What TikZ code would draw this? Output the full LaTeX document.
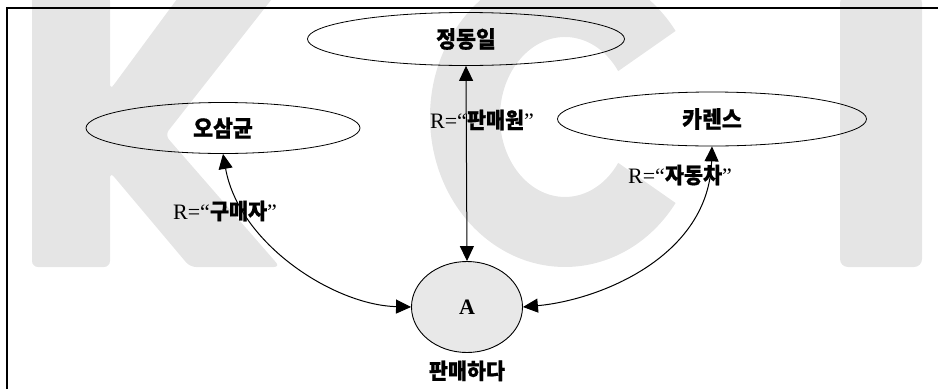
\documentclass[tikz,border=0pt]{standalone}
\usepackage{fontspec}
\setmainfont{Liberation Serif}
\newfontfamily\kor{Noto Sans CJK KR}[BoldFeatures={FakeStretch=0.94, FakeBold=0.6}]
\usetikzlibrary{arrows.meta, positioning, shapes.geometric}
\tikzset{>={Triangle[width=14pt,length=15pt]}}
\definecolor{markgray}{gray}{0.9}
\definecolor{eventgray}{gray}{0.91}

\begin{document}
\begin{tikzpicture}[x=1pt, y=-1pt,
      entity/.style = {draw, ellipse, inner sep=0pt, line width=0.8pt, font=\kor\bfseries\fontsize{23}{23}\selectfont},
      event/.style = {draw, ellipse, fill=eventgray, minimum width=111pt, minimum height=91pt, inner sep=0pt, line width=0.9pt, font=\bfseries\fontsize{22}{22}\selectfont},
      rel/.style = {inner sep=0pt, font=\fontsize{22}{22}\selectfont},
      arrow/.style = {<->, line width=1pt},
      wmark/.style = {fill=markgray, draw=none}
    ]
    \useasboundingbox (0,0) rectangle (938,389);

    % KCI watermark
    \fill[wmark, rounded corners=6pt] (32,-5) -- (110,-5) -- (110,90) -- (180,-5) -- (275,-5) -- (165,135)
      -- (280,267) -- (190,267) -- (110,172) -- (110,267) -- (32,267) -- cycle;
    \fill[wmark] (675.6,203) arc[start angle=35, end angle=325, x radius=135, y radius=150]
      -- (618.2,71.1) arc[start angle=325, end angle=35, x radius=65, y radius=80] -- cycle;
    \fill[wmark, rounded corners=8pt] (840,-5) rectangle (922,267);

    \draw[line width=1.8pt] (7,389) -- (7,8) -- (938,8);

    \node[entity, minimum width=317pt, minimum height=53pt] (jung) at (466,39) {정동일};
    \node[entity, minimum width=274pt, minimum height=51pt] (oh) at (223,128) {오삼균};
    \node[entity, minimum width=309pt, minimum height=54pt] (carens) at (712,119) {카렌스};
    \node[event] (sell) at (467,307) {A};
    \node[below=4pt of sell, font=\kor\bfseries\fontsize{22}{22}\selectfont] (selllabel) {판매하다};

    \draw[arrow] (sell.north) -- (jung.south);
    \draw[arrow] (oh.south) .. controls +(16,90) and +(-77,-2) .. (sell.west);
    \draw[arrow] (carens.south) .. controls +(-3,110) and +(77,-7) .. (sell.east);

    \node[rel] (buyer) at (225,211) {R=“{\kor\bfseries 구매자}”};
    \node[rel] (seller) at (482,120) {R=“{\kor\bfseries 판매원}”};
    \node[rel] (car) at (680,175) {R=“{\kor\bfseries 자동차}”};

    \end{tikzpicture}
\end{document}
